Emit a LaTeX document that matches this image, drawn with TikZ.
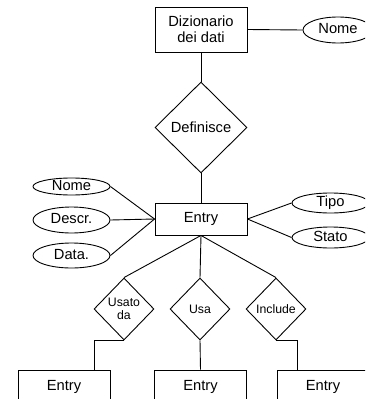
\documentclass[tikz,border=0pt]{standalone}
\usepackage{fontspec}
\setmainfont{Liberation Sans}
\usetikzlibrary{shapes.geometric,calc}
\tikzstyle{entity}=[rectangle, draw=black, line width=0.9pt, inner sep=0pt, minimum width=92pt, anchor=center, font=\fontsize{14.7}{16}\selectfont, align=center]
\tikzstyle{attrib}=[ellipse, draw=black, line width=0.9pt, inner sep=0pt, text height=9pt, text depth=2pt, font=\fontsize{14.7}{16}\selectfont]
\tikzstyle{relation}=[diamond, draw=black, line width=0.9pt, inner sep=0pt, align=center]
\tikzstyle{link}=[line width=0.9pt]

\begin{document}
\begin{tikzpicture}[x=1pt, y=-1pt]
	\clip (0,0) rectangle (365,399);

	\node[entity, minimum height=45pt](diz) at (201,29.5){Dizionario\\dei dati};
	\node[attrib, minimum width=70pt, minimum height=26pt](nomeDiz) at (338,30){Nome};
	\node[relation, minimum width=92pt, minimum height=91pt, font=\fontsize{14.7}{16}\selectfont](def) at (201,127.5){Definisce};

	\node[entity, minimum height=32pt](entry) at (201,219){Entry};
	\node[attrib, minimum width=77pt, minimum height=17pt](nome) at (71.5,186.5){Nome};
	\node[attrib, minimum width=77pt, minimum height=26pt](descr) at (71.5,220){Descr.};
	\node[attrib, minimum width=77pt, minimum height=25pt](data) at (71.5,255.5){Data.};
	\node[attrib, minimum width=77pt, minimum height=20pt](tipo) at (330.5,203){Tipo};
	\node[attrib, minimum width=77pt, minimum height=21pt](stato) at (330.5,237.5){Stato};

	\node[relation, minimum width=60pt, minimum height=62pt, font=\fontsize{12.3}{13.5}\selectfont](usato) at (124,309){Usato\\da};
	\node[relation, minimum width=60pt, minimum height=62pt, font=\fontsize{12.3}{13.5}\selectfont](usa) at (200,309){Usa};
	\node[relation, minimum width=60pt, minimum height=62pt, font=\fontsize{12.3}{13.5}\selectfont](include) at (276,309){Include};

	\node[entity, minimum height=34pt](entryA) at (64,387){Entry};
	\node[entity, minimum height=34pt](entryB) at (200.5,387){Entry};
	\node[entity, minimum height=34pt](entryC) at (323,387){Entry};

	\draw[link] (diz.east) -- (nomeDiz.west);
	\draw[link] (diz.south) -- (def.north);
	\draw[link] (def.south) -- (entry.north);
	\draw[link] (nome.east) -- (entry.west);
	\draw[link] (descr.east) -- (entry.west);
	\draw[link] (data.east) -- (entry.west);
	\draw[link] (tipo.west) -- (entry.east);
	\draw[link] (stato.west) -- (entry.east);
	\draw[link] (entry.south) -- (usato.north);
	\draw[link] (entry.south) -- (usa.north);
	\draw[link] (entry.south) -- (include.north);
	\draw[link] (usato.south) -| ([xshift=-16pt]entryA.north east);
	\draw[link] (usa.south) -- (entryB.north);
	\draw[link] (include.south) -| ([xshift=21pt]entryC.north west);
\end{tikzpicture}
\end{document}
